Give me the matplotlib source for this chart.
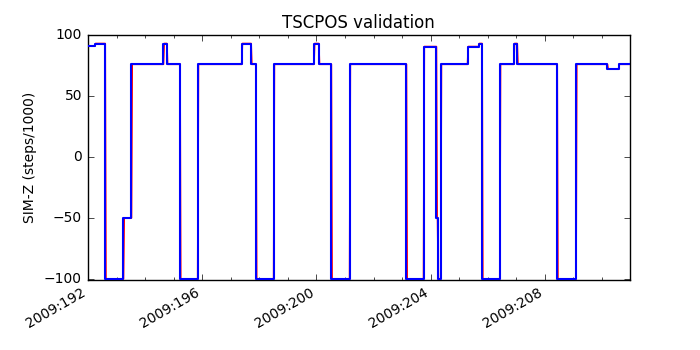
import matplotlib
matplotlib.use("Agg")
import matplotlib.pyplot as plt
from matplotlib.ticker import MultipleLocator, FuncFormatter

plt.style.use("classic")
plt.rcParams["font.size"] = 10

# Day-of-year 2009 at which SIM-Z changes, and the value it takes (steps/1000)
change_days = [191.98, 192.24, 192.60, 193.24, 193.52, 194.64, 194.76, 195.22,
               195.84, 197.38, 197.71, 197.88, 198.50, 199.91, 200.08, 200.52,
               201.16, 203.15, 203.75, 204.20, 204.24, 204.35, 205.29, 205.68,
               205.80, 206.42, 206.91, 207.03, 208.43, 209.09, 210.19, 210.58]
change_vals = [91, 93, -100, -50, 76, 93, 76, -100,
               76, 93, 76, -100, 76, 93, 76, -100,
               76, -100, 90.5, -50, -100, 76, 90.5, 93,
               -100, 76, 93, 76, -100, 76, 72, 76]
end_day = 210.98
red_lag = 0.025  # commanded (red) transitions lag slightly behind telemetry

blue_t = change_days + [end_day]
blue_v = change_vals + [change_vals[-1]]

red_t, red_v = [change_days[0]], [change_vals[0]]
for i in range(1, len(change_days)):
    red_t += [change_days[i], change_days[i] + red_lag]
    red_v += [change_vals[i - 1], change_vals[i]]
red_t.append(end_day)
red_v.append(change_vals[-1])

fig = plt.figure(figsize=(7, 3.5), dpi=100, facecolor="white")
ax = fig.add_subplot(111)
ax.plot(red_t, red_v, color="r", lw=1.2, zorder=3)
ax.plot(blue_t, blue_v, color="b", lw=1.5, drawstyle="steps-post", zorder=3.1)

ax.set_xlim(191.98, end_day)
ax.set_ylim(-100.9, 100)
ax.set_yticks([-100, -50, 0, 50, 100])
ax.xaxis.set_major_locator(MultipleLocator(4))
ax.xaxis.set_minor_locator(MultipleLocator(1))
ax.xaxis.set_major_formatter(FuncFormatter(lambda x, p: "2009:%03d" % int(round(x))))
ax.set_title("TSCPOS validation", fontsize=12)
ax.set_ylabel("SIM-Z (steps/1000)")
fig.autofmt_xdate()
fig.savefig("out.png", dpi=100, facecolor="white")
